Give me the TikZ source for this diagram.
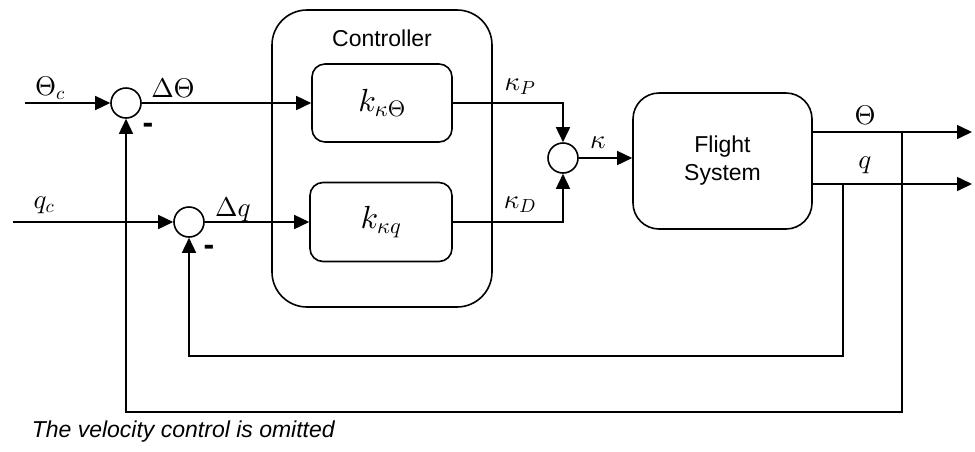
\documentclass[tikz,border=0pt]{standalone}
\usepackage{fontspec}
\setmainfont{Liberation Sans}
\DeclareFontShape{OML}{cmm}{m}{it}{<->cmmi10}{}
\DeclareFontShape{OT1}{cmr}{m}{n}{<->cmr10}{}
\DeclareFontShape{OMS}{cmsy}{m}{n}{<->cmsy10}{}
\usetikzlibrary{arrows.meta}
\begin{document}
\begin{tikzpicture}[x=1pt,y=-1pt,
  every path/.style={line width=1.6pt},
  arr/.style={-{Triangle[length=15pt,width=14pt]}},
  sumc/.style={draw,circle,minimum size=30pt,inner sep=0pt},
  blk/.style={draw,rounded corners=13pt,inner sep=0pt},
  bigbox/.style={draw,rounded corners=35pt,inner sep=0pt},
  fsbox/.style={draw,rounded corners=26pt,inner sep=0pt,align=center,font=\fontsize{23}{28}\selectfont},
  lbl/.style={inner sep=0pt,font=\fontsize{27}{30}\selectfont},
  klbl/.style={font=\fontsize{32}{36}\selectfont},
  txt/.style={inner sep=0pt,font=\fontsize{23}{28}\selectfont},
  minus/.style={inner sep=0pt,font=\fontsize{32}{36}\selectfont\bfseries}]
\useasboundingbox (0,0) rectangle (975,451);
% blocks
\node[bigbox,minimum width=220pt,minimum height=297pt] (ctrl) at (382,158.5) {};
\node[txt] (ctrllabel) at (382,38) {Controller};
\node[blk,minimum width=140pt,minimum height=78pt] (kT) at (382,103) {};
\node[klbl] (kTl) at (382,103) {$k_{\kappa\Theta}$};
\node[blk,minimum width=142pt,minimum height=79pt] (kq) at (381,222) {};
\node[klbl] (kql) at (381,222) {$k_{\kappa q}$};
\node[fsbox,minimum width=179pt,minimum height=136pt] (fs) at (722.5,161) {Flight\\System};
% summing junctions
\node[sumc] (s1) at (126,103) {};
\node[sumc] (s2) at (189,222) {};
\node[sumc] (s3) at (563,158) {};
% coordinates
\coordinate (thc) at (25,103);
\coordinate (qc) at (13,222);
\coordinate (oT) at (972,132);
\coordinate (oq) at (972,184);
\coordinate (tT) at (902,132);
\coordinate (tq) at (843,184);
\coordinate (fT) at (902,412);
\coordinate (fq) at (843,356);
% connectors
\draw[arr] (thc) -- (s1.west);
\draw[arr] (s1.east) -- (kT.west);
\draw[arr] (qc) -- (s2.west);
\draw[arr] (s2.east) -- (kq.west);
\draw[arr] (kT.east) -| (s3.north);
\draw[arr] (kq.east) -| (s3.south);
\draw[arr] (s3.east) -- (s3.east -| fs.west);
\draw[arr] (fs.east |- oT) -- (oT);
\draw[arr] (fs.east |- oq) -- (oq);
\draw[arr] (tq) -- (fq) -| (s2.south);
\draw[arr] (tT) -- (fT) -| (s1.south);
% labels
\node[lbl] (lthc) at (50,88) {$\Theta_c$};
\node[lbl] (ldT) at (173,88) {$\Delta\Theta$};
\node[lbl] (lqc) at (44,205) {$q_c$};
\node[lbl] (ldq) at (233,210) {$\Delta q$};
\node[lbl] (lkp) at (520,87) {$\kappa_P$};
\node[lbl] (lkd) at (520,205) {$\kappa_D$};
\node[lbl] (lk) at (598,143) {$\kappa$};
\node[lbl] (lT) at (865,115) {$\Theta$};
\node[lbl] (lq) at (865,165) {$q$};
\node[minus] (m1) at (148,128) {-};
\node[minus] (m2) at (209,250) {-};
\node[txt,anchor=west] (note) at (31,432) {\itshape The velocity control is omitted};
\end{tikzpicture}
\end{document}
